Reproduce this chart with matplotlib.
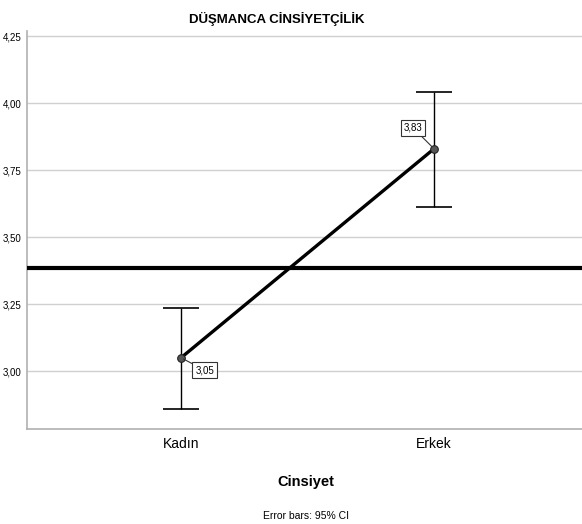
import matplotlib.pyplot as plt
from matplotlib import font_manager

# Cinsiyete göre düşmanca cinsiyetçilik ortalamaları ve %95 güven aralıkları
groups = ["Kadın", "Erkek"]
means = [3.05, 3.83]
ci_low = [2.858, 3.612]
ci_high = [3.235, 4.041]
grand_mean = 3.385
yticks = [3.00, 3.25, 3.50, 3.75, 4.00, 4.25]

names = {f.name for f in font_manager.fontManager.ttflist}
narrow = "Liberation Sans Narrow" if "Liberation Sans Narrow" in names else "Liberation Sans"
plt.rcParams["font.family"] = [narrow, "DejaVu Sans"]

fig = plt.figure(figsize=(5.82, 5.24), dpi=100)
ax = fig.add_axes([0.0464, 0.1813, 0.9536, 0.7587])

x = list(range(len(groups)))
err = [[m - lo for m, lo in zip(means, ci_low)], [hi - m for m, hi in zip(means, ci_high)]]

ax.axhline(grand_mean, color="black", lw=3, zorder=3)
ax.errorbar(x, means, yerr=err, fmt="none", ecolor="black", elinewidth=1,
            capsize=13, capthick=1.2, zorder=4)
ax.plot(x, means, color="black", lw=2.4, zorder=5)
ax.plot(x, means, "o", ms=5.5, mfc="#555555", mec="#222222", mew=0.8, zorder=6)

# değer etiketleri
offsets = [(17, -9), (-15, 15)]
for xi, m, (dx, dy) in zip(x, means, offsets):
    ax.annotate(f"{m:.2f}".replace(".", ","), xy=(xi, m), xytext=(dx, dy),
                textcoords="offset points", ha="center", va="center", fontsize=7,
                bbox=dict(boxstyle="square,pad=0.3", fc="white", ec="#333333", lw=0.8),
                arrowprops=dict(arrowstyle="-", color="#333333", lw=0.8,
                                shrinkA=0, shrinkB=2),
                zorder=7)

ax.set_xlim(-0.609, 1.585)
ax.set_ylim(2.784, 4.268)
ax.set_yticks(yticks)
ax.set_yticklabels([f"{t:.2f}".replace(".", ",") for t in yticks], fontsize=7)
ax.set_xticks(x)
ax.set_xticklabels(groups, fontsize=10)
ax.tick_params(length=0, pad=4)
ax.tick_params(axis="x", pad=6)
ax.grid(axis="y", color="#d0d0d0", lw=1)
ax.set_axisbelow(True)
for s in ["top", "right"]:
    ax.spines[s].set_visible(False)
for s in ["left", "bottom"]:
    ax.spines[s].set_color("#b0b0b0")
    ax.spines[s].set_linewidth(1.2)

fig.text(0.475, 0.963, "DÜŞMANCA CİNSİYETÇİLİK", ha="center", va="center",
         fontsize=9.5, fontweight="bold")
fig.text(0.526, 0.08, "Cinsiyet", ha="center", va="center", fontsize=10.5,
         fontweight="bold")
fig.text(0.526, 0.015, "Error bars: 95% CI", ha="center", va="center", fontsize=7.5)

fig.savefig("out.png", dpi=100)
